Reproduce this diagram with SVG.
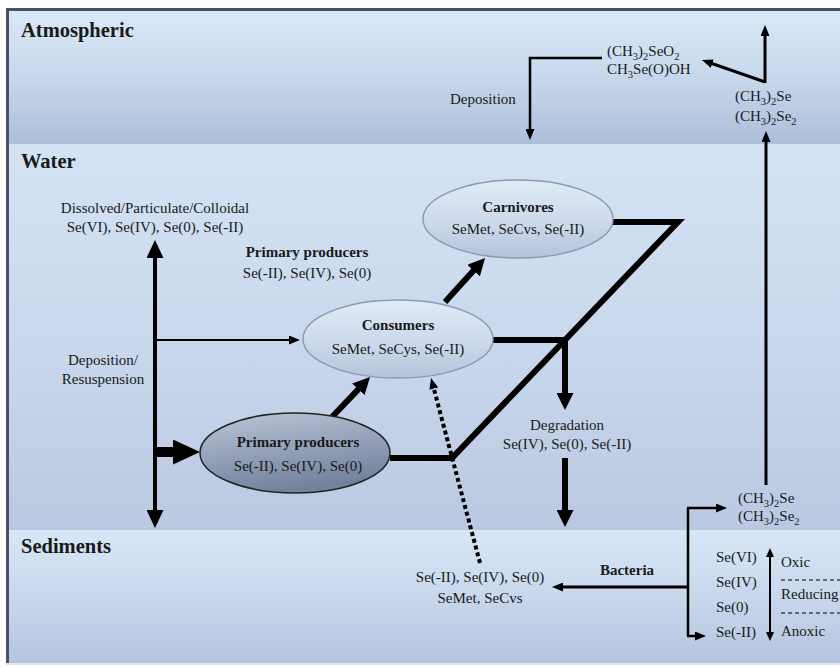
<svg xmlns="http://www.w3.org/2000/svg" width="840" height="668" viewBox="0 0 840 668">
<defs>
<linearGradient id="gAtm" x1="0" y1="0" x2="0" y2="1">
<stop offset="0" stop-color="#d9e8f6"/><stop offset="0.45" stop-color="#c9daee"/><stop offset="1" stop-color="#adbed8"/>
</linearGradient>
<linearGradient id="gWat" x1="0" y1="0" x2="0" y2="1">
<stop offset="0" stop-color="#d4e3f4"/><stop offset="0.5" stop-color="#c9d8ec"/><stop offset="1" stop-color="#bac9e1"/>
</linearGradient>
<linearGradient id="gSed" x1="0" y1="0" x2="0" y2="1">
<stop offset="0" stop-color="#d8e7f6"/><stop offset="0.5" stop-color="#c8d7ec"/><stop offset="1" stop-color="#b6c5df"/>
</linearGradient>
<linearGradient id="gLight" x1="0" y1="0" x2="0" y2="1">
<stop offset="0" stop-color="#e0ebf7"/><stop offset="0.6" stop-color="#cad7ea"/><stop offset="1" stop-color="#b4c2d9"/>
</linearGradient>
<linearGradient id="gDark" x1="0" y1="0" x2="0.3" y2="1">
<stop offset="0" stop-color="#bcc6d7"/><stop offset="0.5" stop-color="#97a4bb"/><stop offset="1" stop-color="#74829e"/>
</linearGradient>
<marker id="ahS" markerUnits="userSpaceOnUse" markerWidth="11" markerHeight="9" refX="2" refY="4.5" orient="auto-start-reverse"><path d="M0,0 L11,4.5 L0,9 z" fill="#000"/></marker>
<marker id="ahM" markerUnits="userSpaceOnUse" markerWidth="18" markerHeight="17" refX="4" refY="8.5" orient="auto-start-reverse"><path d="M0,0 L18,8.5 L0,17 z" fill="#000"/></marker>
<marker id="ahD" markerUnits="userSpaceOnUse" markerWidth="17" markerHeight="17" refX="4" refY="8.5" orient="auto"><path d="M0,0 L17,8.5 L0,17 z" fill="#000"/></marker>
<marker id="ahB" markerUnits="userSpaceOnUse" markerWidth="27" markerHeight="25" refX="4" refY="12.5" orient="auto"><path d="M0,0 L27,12.5 L0,25 z" fill="#000"/></marker>
<marker id="ahT" markerUnits="userSpaceOnUse" markerWidth="9" markerHeight="8" refX="2" refY="4" orient="auto-start-reverse"><path d="M0,0 L9,4 L0,8 z" fill="#000"/></marker>
</defs>
<style>
text{font-family:"Liberation Serif","DejaVu Serif",serif;fill:#1a1a1a;font-size:15px}
.h{font-weight:bold;font-size:20.5px}
.b{font-weight:bold}
.c{text-anchor:middle}
.sub{font-size:10.5px}
.ln{fill:none;stroke:#000}
</style>
<rect x="0" y="0" width="840" height="668" fill="#ffffff"/>
<rect x="6" y="8" width="840" height="657" fill="#46536a"/>
<g id="band-atmospheric">
<rect x="9" y="11" width="831" height="133" fill="url(#gAtm)"/>
<text class="h" x="21" y="37">Atmospheric</text>
</g>
<g id="band-water">
<rect x="9" y="144" width="831" height="386" fill="url(#gWat)"/>
<text class="h" x="21" y="168">Water</text>
</g>
<g id="band-sediments">
<rect x="9" y="530" width="831" height="133" fill="url(#gSed)"/>
<text class="h" x="21" y="553">Sediments</text>
</g>
<rect x="6" y="663" width="834" height="2" fill="#dfe8f3"/>

<g id="connectors">
<path class="ln" d="M602,58 H530 V131" stroke-width="2.5" marker-end="url(#ahS)"/>
<path class="ln" d="M765,82 L710.5,63" stroke-width="3" marker-end="url(#ahS)"/>
<path class="ln" d="M765,83 V34" stroke-width="3" marker-end="url(#ahS)"/>
<path class="ln" d="M766,485 V140" stroke-width="3" marker-end="url(#ahS)"/>
<path class="ln" d="M155,254 V514" stroke-width="4" marker-start="url(#ahM)" marker-end="url(#ahM)"/>
<path class="ln" d="M157,340 H291" stroke-width="2" marker-end="url(#ahS)"/>
<path class="ln" d="M155,452 H177" stroke-width="10" marker-end="url(#ahB)"/>
<path class="ln" d="M332,417 L361.1,386.4" stroke-width="6" marker-end="url(#ahD)"/>
<path class="ln" d="M445,302 L476.3,267.6" stroke-width="6" marker-end="url(#ahD)"/>
<path class="ln" d="M612,222 H678 L452,458 H390" stroke-width="6" stroke-linejoin="miter"/>
<path class="ln" d="M493,340 H566" stroke-width="6"/>
<path class="ln" d="M565,340 V397" stroke-width="6" marker-end="url(#ahD)"/>
<path class="ln" d="M565,458 V514" stroke-width="6" marker-end="url(#ahD)"/>
<path class="ln" d="M480,563 L433.3,386.7" stroke-width="4" stroke-dasharray="4 3" marker-end="url(#ahS)"/>
<path class="ln" d="M688,587 H561" stroke-width="3" marker-end="url(#ahS)"/>
<path class="ln" d="M688,508 V636" stroke-width="2.5"/>
<path class="ln" d="M687,508 H718" stroke-width="2.5" marker-end="url(#ahS)"/>
<path class="ln" d="M687,636 H697" stroke-width="2.5" marker-end="url(#ahS)"/>
<path class="ln" d="M770,555 V634" stroke-width="2" marker-start="url(#ahT)" marker-end="url(#ahT)"/>
<path class="ln" d="M781,580 H840 M781,613 H840" stroke="#555" stroke-width="1.2" stroke-dasharray="4 3"/>
</g>

<g id="node-carnivores">
<ellipse cx="518" cy="219" rx="95" ry="39" fill="url(#gLight)" stroke="#8d9bb2" stroke-width="1.5"/>
<text class="b c" x="518" y="212">Carnivores</text>
<text class="c" x="518" y="234">SeMet, SeCvs, Se(-II)</text>
</g>
<g id="node-consumers">
<ellipse cx="398" cy="339" rx="95" ry="39" fill="url(#gLight)" stroke="#8d9bb2" stroke-width="1.5"/>
<text class="b c" x="398" y="330">Consumers</text>
<text class="c" x="398" y="354">SeMet, SeCys, Se(-II)</text>
</g>
<g id="node-primary-producers">
<ellipse cx="295" cy="453" rx="95" ry="40" fill="url(#gDark)" stroke="#222" stroke-width="1.5"/>
<text class="b c" x="298" y="447">Primary producers</text>
<text class="c" x="298" y="471">Se(-II), Se(IV), Se(0)</text>
</g>

<g id="labels">
<text x="607" y="56">(CH<tspan class="sub" dy="4">3</tspan><tspan dy="-4">)</tspan><tspan class="sub" dy="4">2</tspan><tspan dy="-4">SeO</tspan><tspan class="sub" dy="4">2</tspan></text>
<text x="607" y="74">CH<tspan class="sub" dy="4">3</tspan><tspan dy="-4">Se(O)OH</tspan></text>
<text x="450" y="104">Deposition</text>
<text x="735" y="101">(CH<tspan class="sub" dy="4">3</tspan><tspan dy="-4">)</tspan><tspan class="sub" dy="4">2</tspan><tspan dy="-4">Se</tspan></text>
<text x="735" y="121">(CH<tspan class="sub" dy="4">3</tspan><tspan dy="-4">)</tspan><tspan class="sub" dy="4">2</tspan><tspan dy="-4">Se</tspan><tspan class="sub" dy="4">2</tspan></text>
<text class="c" x="155" y="213">Dissolved/Particulate/Colloidal</text>
<text class="c" x="155" y="232">Se(VI), Se(IV), Se(0), Se(-II)</text>
<text class="b c" x="307" y="257">Primary producers</text>
<text class="c" x="307" y="278">Se(-II), Se(IV), Se(0)</text>
<text class="c" x="103" y="365">Deposition/</text>
<text class="c" x="103" y="384">Resuspension</text>
<text class="c" x="567" y="430">Degradation</text>
<text class="c" x="567" y="449">Se(IV), Se(0), Se(-II)</text>
<text x="738" y="503">(CH<tspan class="sub" dy="4">3</tspan><tspan dy="-4">)</tspan><tspan class="sub" dy="4">2</tspan><tspan dy="-4">Se</tspan></text>
<text x="738" y="521">(CH<tspan class="sub" dy="4">3</tspan><tspan dy="-4">)</tspan><tspan class="sub" dy="4">2</tspan><tspan dy="-4">Se</tspan><tspan class="sub" dy="4">2</tspan></text>
<text class="c" x="480" y="582">Se(-II), Se(IV), Se(0)</text>
<text class="c" x="480" y="603">SeMet, SeCvs</text>
<text class="b c" x="627" y="575">Bacteria</text>
<text x="716" y="562">Se(VI)</text>
<text x="716" y="587">Se(IV)</text>
<text x="716" y="612">Se(0)</text>
<text x="716" y="637">Se(-II)</text>
<text x="781" y="567">Oxic</text>
<text x="781" y="599">Reducing</text>
<text x="781" y="636">Anoxic</text>
</g>
</svg>
